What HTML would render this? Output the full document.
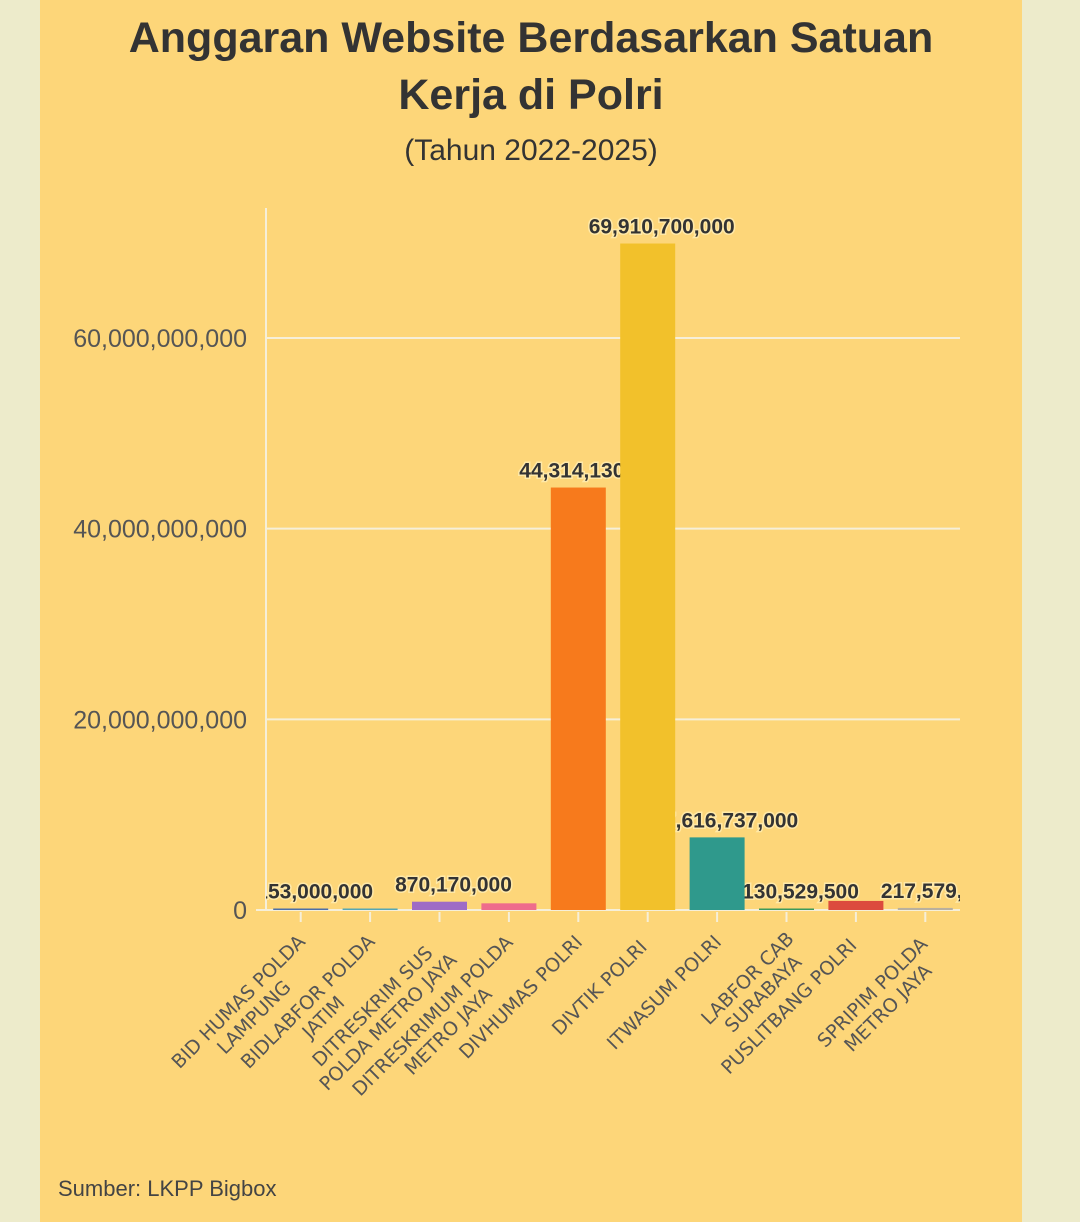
<!DOCTYPE html>
<html><head><meta charset="utf-8">
<style>
html,body{margin:0;padding:0;}
body{width:1080px;height:1222px;background:#EDEBCB;position:relative;overflow:hidden;font-family:"Liberation Sans",sans-serif;}
#panel{position:absolute;left:40px;top:0;width:982px;height:1222px;background:#FDD679;}
#title{position:absolute;left:40px;width:982px;top:10px;text-align:center;font-weight:bold;font-size:43px;line-height:57px;color:#333;}
#subtitle{position:absolute;left:40px;width:982px;top:134px;text-align:center;font-size:30px;color:#333;}
#source{position:absolute;left:58px;top:1176px;font-size:22px;color:#444;}
svg{position:absolute;left:0;top:0;}
</style></head>
<body>
<div id="panel"></div>
<div id="title">Anggaran Website Berdasarkan Satuan<br>Kerja di Polri</div>
<div id="subtitle">(Tahun 2022-2025)</div>
<div id="source">Sumber: LKPP Bigbox</div>
<svg id="chart" width="1080" height="1222"></svg>
<script>
const categories = [["BID HUMAS POLDA","LAMPUNG"],["BIDLABFOR POLDA","JATIM"],["DITRESKRIM SUS","POLDA METRO JAYA"],["DITRESKRIMUM POLDA","METRO JAYA"],["DIVHUMAS POLRI"],["DIVTIK POLRI"],["ITWASUM POLRI"],["LABFOR CAB","SURABAYA"],["PUSLITBANG POLRI"],["SPRIPIM POLDA","METRO JAYA"]];
const values = [153000000, 60000000, 870170000, 700000000, 44314130000, 69910700000, 7616737000, 130529500, 950000000, 217579490];
const showLabel = [true, false, true, false, true, true, true, true, false, true];
const colors = ["#4C6FA8","#55A7B5","#9E6BC6","#EE6C8C","#F77A1C","#F2C12B","#2F998C","#3C9A5C","#DC4B3E","#B9B09E"];
const yTicks = [0, 20000000000, 40000000000, 60000000000];

const NS="http://www.w3.org/2000/svg";
const svg=document.getElementById('chart');
const x0=266, x1=960, yZero=910, yTop=208;
const yScale=v=>yZero - v*(572/60000000000);
const band=(x1-x0)/categories.length;
const xC=i=>x0+band*(i+0.5);
const fmt=v=>Math.round(v).toLocaleString('en-US');
function mk(tag,attrs,parent){const e=document.createElementNS(NS,tag);for(const k in attrs)e.setAttribute(k,attrs[k]);(parent||svg).appendChild(e);return e;}

const defs=mk('defs',{});
const cp=mk('clipPath',{id:'plotclip'},defs);
mk('rect',{x:x0,y:150,width:x1-x0,height:yZero-150+8},cp);

// gridlines + y ticks
yTicks.forEach(t=>{
  const y=yScale(t);
  if(t>0){const g=mk('line',{x1:x0,x2:x1,y1:y,y2:y,stroke:'#F6EFD9','stroke-width':2});
  
  }
  const tx=mk('text',{x:247,y:y+9,'text-anchor':'end','font-size':25,fill:'#555','font-family':'Liberation Sans, sans-serif'});
  tx.textContent=fmt(t);
  
  
});
const ax=mk('line',{x1:x0,x2:x0,y1:yTop,y2:yZero,stroke:'#F6EFD9','stroke-width':2});


const zl=mk('line',{x1:x0-10,x2:x1,y1:yZero,y2:yZero,stroke:'#F6EFD9','stroke-width':2});



const barW=55;
const lg=mk('g',{'clip-path':'url(#plotclip)'});
categories.forEach((c,i)=>{
  const cx=xC(i), y=yScale(values[i]);
  const h=Math.max(yZero-y,1.5);
  const r=mk('rect',{x:cx-barW/2,y:yZero-h,width:barW,height:h,fill:colors[i]});
  
  
  const tk=mk('line',{x1:cx,x2:cx,y1:yZero+2,y2:yZero+12,stroke:'#F6EFD9','stroke-width':2});
  
  
  if(showLabel[i]){
    const t=mk('text',{x:cx+14,y:yZero-h-10,'text-anchor':'middle','font-size':21,'font-weight':'bold',fill:'#333',stroke:'#FFE9A8','stroke-width':3,'paint-order':'stroke','font-family':'Liberation Sans, sans-serif'},lg);
    t.textContent=fmt(values[i]);
    
    
  }
  // category label
  const n=c.length;
  const maxLen=Math.max(...c.map(s=>s.length));
  const w=maxLen*13.2;
  const g=mk('g',{transform:`translate(${cx+8},${yZero+22}) rotate(-45)`});
  
  
  c.forEach((s,j)=>{
    const t=mk('text',{x:-w/2,y:j*22+6,'text-anchor':'middle','font-size':19,fill:'#555','font-family':'DejaVu Sans, sans-serif'},g);
    t.textContent=s;
  });
});
</script>
</body></html>
